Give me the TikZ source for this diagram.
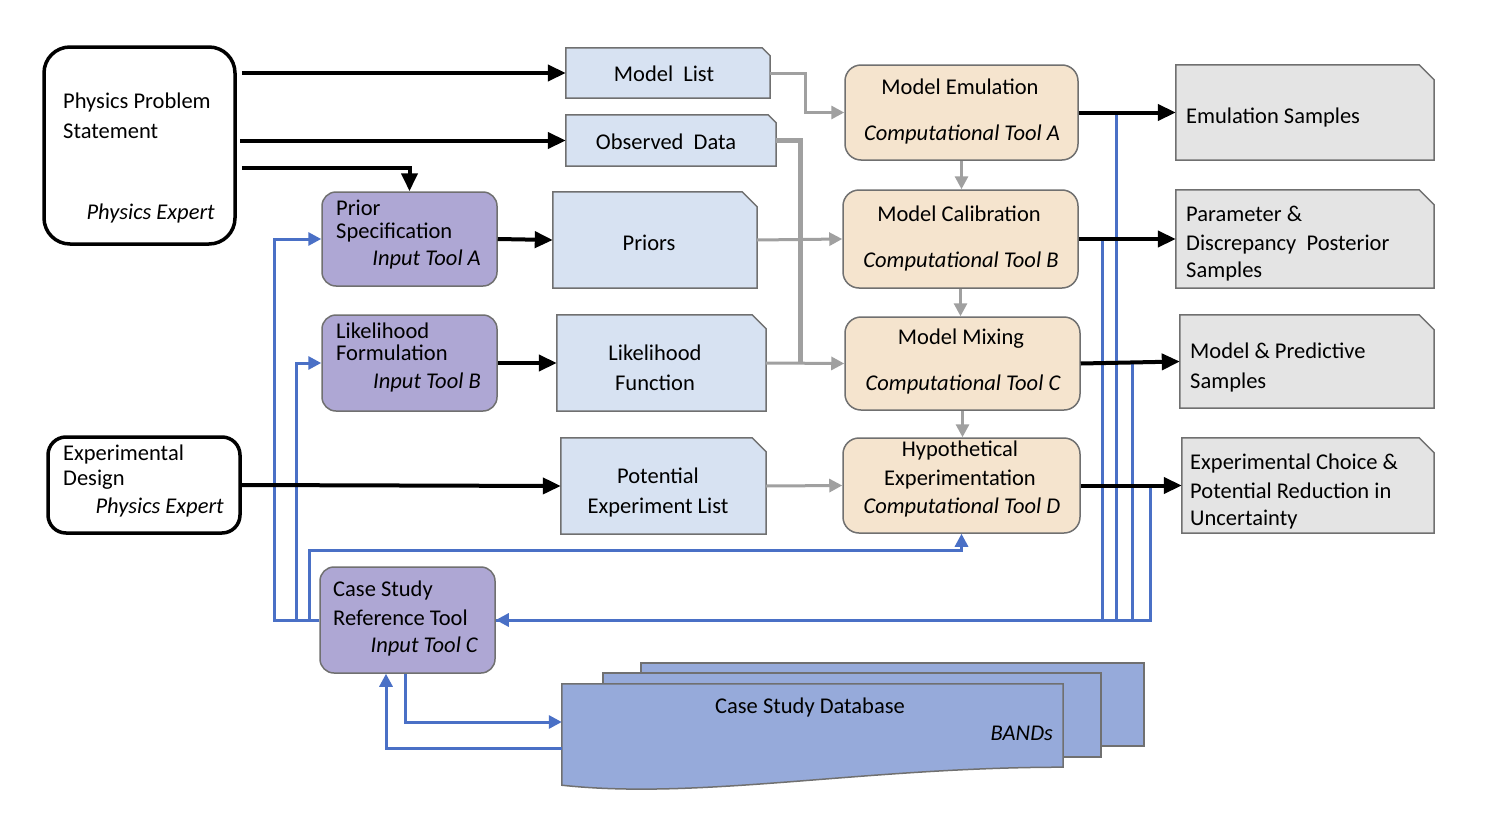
\documentclass[tikz,border=0pt]{standalone}
\usepackage{fontspec}
\setmainfont{Carlito}
\usetikzlibrary{arrows.meta,fit}
\newcommand{\fsz}{\fontsize{22.5}{27}\selectfont}
\definecolor{bordergray}{RGB}{112,112,112}
\definecolor{docfill}{RGB}{215,226,242}
\definecolor{purpfill}{RGB}{174,167,212}
\definecolor{orfill}{RGB}{245,228,206}
\definecolor{outfill}{RGB}{228,228,228}
\definecolor{dbfill}{RGB}{150,170,218}
\definecolor{arrowgray}{RGB}{160,160,160}
\definecolor{blueline}{RGB}{74,112,198}
\newcommand{\docshape}[3]{\draw[docline,fill=#2] (#1.south west) -- (#1.north west) -- ([xshift=-#3]#1.north east) -- ([yshift=-#3]#1.north east) -- (#1.south east) -- cycle;}
\tikzset{
 txt/.style={font=\fsz, inner sep=0pt, text height=17.5pt, text depth=2.5pt},
 blackbox/.style={draw=black, line width=3.5pt, rounded corners=26pt, fill=white, inner sep=0pt},
 blackboxs/.style={draw=black, line width=3.5pt, rounded corners=18pt, fill=white, inner sep=0pt},
 purp/.style={draw=bordergray, line width=1.5pt, fill=purpfill, rounded corners=14pt, inner sep=0pt},
 orng/.style={draw=bordergray, line width=1.5pt, fill=orfill, rounded corners=16pt, inner sep=0pt},
 ghost/.style={inner sep=0pt, draw=none},
 docline/.style={draw=bordergray, line width=1.5pt},
 dbbox/.style={docline, fill=dbfill, inner sep=0pt},
 blk/.style={line width=4pt, -{Triangle[length=18pt,width=16pt]}},
 gry/.style={draw=arrowgray, line width=3pt},
 gryarr/.style={gry, -{Triangle[length=13pt,width=13pt]}},
 blu/.style={draw=blueline, line width=3pt},
 bluarr/.style={blu, -{Triangle[length=13pt,width=13pt]}},
}
\begin{document}
\begin{tikzpicture}[x=1pt,y=-1pt]
\useasboundingbox (0,0) rectangle (1491,835);
\fill[white] (0,0) rectangle (1491,835);

% ---------- left black boxes
\node[blackbox, fit={(44,47)(235,244)}] (pps) {};
\node[txt, anchor=west] (pps1) at (63,101) {Physics Problem};
\node[txt, anchor=west] (pps2) at (63,131) {Statement};
\node[txt, anchor=east] (pps3) at (215,212) {\itshape Physics Expert};

\node[blackboxs, fit={(48,437)(240,533)}] (ed) {};
\node[txt, anchor=west] (ed1) at (63,453) {Experimental};
\node[txt, anchor=west] (ed2) at (63,478) {Design};
\node[txt, anchor=east] (ed3) at (224,506) {\itshape Physics Expert};

% ---------- purple input tools
\node[purp, fit={(322,192)(497,286)}] (ps) {};
\node[txt, anchor=west] (ps1) at (336,208) {Prior};
\node[txt, anchor=west] (ps2) at (336,231) {Specification};
\node[txt, anchor=east] (ps3) at (481,258) {\itshape Input Tool A};

\node[purp, fit={(322,315)(497,411)}] (lfm) {};
\node[txt, anchor=west] (lfm1) at (336,331) {Likelihood};
\node[txt, anchor=west] (lfm2) at (336,353) {Formulation};
\node[txt, anchor=east] (lfm3) at (481,381) {\itshape Input Tool B};

\node[purp, fit={(320,567)(495,673)}] (csr) {};
\node[txt, anchor=west] (csr1) at (333,589) {Case Study};
\node[txt, anchor=west] (csr2) at (333,618) {Reference Tool};
\node[txt, anchor=east] (csr3) at (478,645) {\itshape Input Tool C};

% ---------- light blue documents
\node[ghost, fit={(566,48)(770,98)}] (ml) {};
\docshape{ml}{docfill}{8pt}
\node[txt] (ml1) at (664,74) {Model\ \ List};

\node[ghost, fit={(566,115)(776,166)}] (od) {};
\docshape{od}{docfill}{8pt}
\node[txt] (od1) at (666,142) {Observed\ \ Data};

\node[ghost, fit={(553,192)(757,288)}] (pri) {};
\docshape{pri}{docfill}{15pt}
\node[txt] (pri1) at (649,243) {Priors};

\node[ghost, fit={(557,315)(766,411)}] (lf) {};
\docshape{lf}{docfill}{14pt}
\node[txt] (lf1) at (655,353) {Likelihood};
\node[txt] (lf2) at (655,383) {Function};

\node[ghost, fit={(561,438)(766,534)}] (pel) {};
\docshape{pel}{docfill}{14pt}
\node[txt] (pel1) at (658,476) {Potential};
\node[txt] (pel2) at (658,506) {Experiment List};

% ---------- orange computational tools
\node[orng, fit={(845,65)(1078,160)}] (me) {};
\node[txt] (me1) at (960,87) {Model Emulation};
\node[txt] (me2) at (962,133) {\itshape Computational Tool A};

\node[orng, fit={(843,190)(1078,288)}] (mc) {};
\node[txt] (mc1) at (959,214) {Model Calibration};
\node[txt] (mc2) at (961,260) {\itshape Computational Tool B};

\node[orng, fit={(845,317)(1080,410)}] (mm) {};
\node[txt] (mm1) at (961,337) {Model Mixing};
\node[txt] (mm2) at (963,383) {\itshape Computational Tool C};

\node[orng, fit={(843,438)(1080,533)}] (he) {};
\node[txt] (he1) at (960,449) {Hypothetical};
\node[txt] (he2) at (960,478) {Experimentation};
\node[txt] (he3) at (962,506) {\itshape Computational Tool D};

% ---------- gray outputs
\node[ghost, fit={(1176,65)(1434,160)}] (es) {};
\docshape{es}{outfill}{15pt}
\node[txt, anchor=west] (es1) at (1186,116) {Emulation Samples};

\node[ghost, fit={(1176,190)(1434,288)}] (pd) {};
\docshape{pd}{outfill}{15pt}
\node[txt, anchor=west] (pd1) at (1186,214) {Parameter \&};
\node[txt, anchor=west] (pd2) at (1186,243) {Discrepancy\ \ Posterior};
\node[txt, anchor=west] (pd3) at (1186,270) {Samples};

\node[ghost, fit={(1180,315)(1434,408)}] (mp) {};
\docshape{mp}{outfill}{15pt}
\node[txt, anchor=west] (mp1) at (1190,351) {Model \& Predictive};
\node[txt, anchor=west] (mp2) at (1190,381) {Samples};

\node[ghost, fit={(1182,438)(1434,533)}] (ec) {};
\docshape{ec}{outfill}{15pt}
\node[txt, anchor=west] (ec1) at (1190,462) {Experimental Choice \&};
\node[txt, anchor=west] (ec2) at (1190,491) {Potential Reduction in};
\node[txt, anchor=west] (ec3) at (1190,518) {Uncertainty};

% ---------- case study database (stack)
\node[dbbox, fit={(641,663)(1144,746)}] (db3) {};
\node[dbbox, fit={(603,673)(1101,757)}] (db2) {};
\node[ghost, fit={(562,684)(1063,785)}] (db) {};
\draw[docline, fill=dbfill] (db.south west) -- (db.north west) -- (db.north east) -- ([yshift=18pt]db.south east)
  .. controls ([xshift=-200pt,yshift=18pt]db.south east) and ([xshift=138pt,yshift=-15pt]db.south west) .. (db.south west) -- cycle;
\node[txt] (db1) at (810,706) {Case Study Database};
\node[txt, anchor=east] (db4) at (1053,733) {\itshape BANDs};

% ---------- gray connectors
\draw[gryarr] (ml.east) -- ++(35,0) |- (me.west);
\draw[gry, line width=5pt] (od.east) -- ++(24,0) coordinate (odk) -- (odk |- lf.east);
\draw[gryarr] (pri.east) -- (mc.west);
\draw[gryarr] (lf.east) -- (mm.west);
\draw[gryarr] (pel.east) -- (he.west);
\draw[gryarr] (me.south) -- (me.south |- mc.north);
\draw[gryarr] (mc.south) -- (mc.south |- mm.north);
\draw[gryarr] (mm.south) -- (mm.south |- he.north);

% ---------- blue connectors
\draw[blu] ([xshift=24pt]mc.east) |- (csr.east);
\draw[blu] ([xshift=38pt]me.east) |- (csr.east);
\draw[blu] ([xshift=52pt]mm.east) |- (csr.east);
\draw[bluarr] ([xshift=70pt]he.east) |- (csr.east);
\draw[bluarr] (csr.west) -- ++(-45,0) |- (ps.west);
\draw[bluarr] (csr.west) -- ++(-23,0) |- (lfm.west);
\draw[bluarr] (csr.west) -- ++(-10,0) -- ++(0,-70) -| (he.south);
\draw[bluarr] ([xshift=-2.5pt]csr.south) |- ([yshift=12.5pt]db.west);
\draw[bluarr] ([yshift=-13.5pt]db.west) -| ([xshift=-21.5pt]csr.south);

% ---------- black connectors
\draw[blk] ([xshift=5pt]pps.east |- ml.west) -- (ml.west);
\draw[blk] ([xshift=3pt]pps.east |- od.west) -- (od.west);
\draw[blk] ([xshift=5pt,yshift=-22.5pt]pps.east) -| (ps.north);
\draw[blk] (ps.east) -- (pri.west);
\draw[blk] (lfm.east) -- (lf.west);
\draw[blk] (ed.east) -- (pel.west);
\draw[blk] (me.east) -- (es.west);
\draw[blk] (mc.east) -- (pd.west);
\draw[blk] (mm.east) -- (mp.west);
\draw[blk] (he.east) -- (ec.west);
\end{tikzpicture}
\end{document}
